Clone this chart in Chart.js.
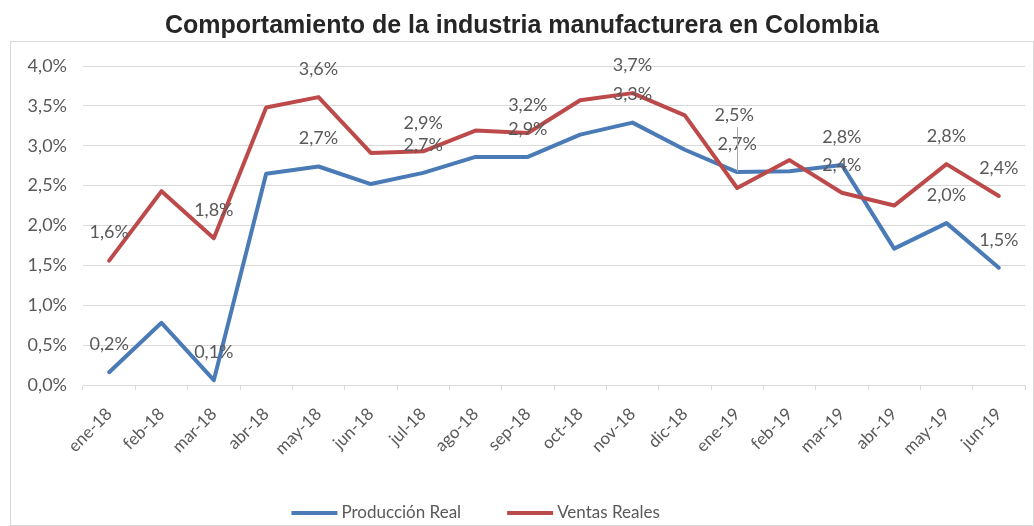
<!DOCTYPE html>
<html lang="es">
<head>
<meta charset="utf-8">
<title>Industria manufacturera</title>
<script src="https://cdn.jsdelivr.net/npm/chart.js@4.4.1/dist/chart.umd.min.js"></script>
<style>
  html, body { margin: 0; padding: 0; background: #fff; }
  #wrap { width: 1034px; height: 526px; }
</style>
</head>
<body>
<div id="wrap"><canvas id="industria" width="1034" height="526"></canvas></div>
<script>
// variación anual (%) de la industria manufacturera
const meses = ['ene-18', 'feb-18', 'mar-18', 'abr-18', 'may-18', 'jun-18', 'jul-18', 'ago-18', 'sep-18',
  'oct-18', 'nov-18', 'dic-18', 'ene-19', 'feb-19', 'mar-19', 'abr-19', 'may-19', 'jun-19'];
const produccionReal = [0.16, 0.78, 0.06, 2.65, 2.74, 2.52, 2.66, 2.86, 2.86,
  3.14, 3.29, 2.95, 2.67, 2.68, 2.76, 1.71, 2.03, 1.47];
const ventasReales = [1.56, 2.43, 1.84, 3.48, 3.61, 2.91, 2.93, 3.19, 3.16,
  3.57, 3.66, 3.38, 2.47, 2.82, 2.41, 2.25, 2.77, 2.37];
// meses que llevan etiqueta de valor
const mesesConEtiqueta = [0, 2, 4, 6, 8, 10, 12, 14, 16, 17];
const ejeY = { min: 0, max: 4, paso: 0.5 };

const TITULO = 'Comportamiento de la industria manufacturera en Colombia';
const GRIS = '#595959';
const FUENTE = 'Lato, "Open Sans", sans-serif';

const pct = v => v.toFixed(1).replace('.', ',') + '%';

// fondo, marco gris y título centrado sobre el marco
const marco = {
  id: 'marco',
  beforeDraw(chart) {
    const ctx = chart.ctx;
    ctx.save();
    ctx.fillStyle = '#fff';
    ctx.fillRect(0, 0, chart.width, chart.height);
    ctx.strokeStyle = '#d9d9d9';
    ctx.lineWidth = 1;
    ctx.strokeRect(10.5, 41.5, chart.width - 11, chart.height - 42);
    ctx.fillStyle = '#262626';
    ctx.font = 'bold 25px "Liberation Sans", Arial, sans-serif';
    ctx.textAlign = 'center';
    ctx.textBaseline = 'middle';
    ctx.fillText(TITULO, (10 + chart.width) / 2, 26);
    ctx.restore();
  }
};

// etiquetas de valor encima de los puntos
const etiquetas = {
  id: 'etiquetas',
  afterDatasetsDraw(chart) {
    const ctx = chart.ctx;
    ctx.save();
    ctx.font = '18px ' + FUENTE;
    ctx.fillStyle = GRIS;
    ctx.textAlign = 'center';
    ctx.textBaseline = 'middle';
    chart.data.datasets.forEach((ds, di) => {
      const meta = chart.getDatasetMeta(di);
      mesesConEtiqueta.forEach(i => {
        const p = meta.data[i];
        let dy = 28, dx = 0;
        // la etiqueta de ventas de ene-19 va desplazada, con línea guía
        if (di === 1 && i === 12) {
          dy = 73; dx = -3;
          const lx = Math.round(p.x) + 0.5;
          ctx.strokeStyle = '#a6a6a6';
          ctx.lineWidth = 1;
          ctx.beginPath();
          ctx.moveTo(lx, p.y - dy + 12);
          ctx.lineTo(lx, p.y - 16);
          ctx.stroke();
        }
        ctx.fillText(pct(ds.data[i]), p.x + dx, p.y - dy);
      });
    });
    ctx.restore();
  }
};

// leyenda inferior: trazo corto de la serie y su nombre
const leyenda = {
  id: 'leyenda',
  afterDraw(chart) {
    const ctx = chart.ctx;
    const linea = 46, hueco = 4, separacion = 46, y = 513;
    ctx.save();
    ctx.font = '17px ' + FUENTE;
    ctx.textBaseline = 'middle';
    ctx.textAlign = 'left';
    const items = chart.data.datasets.map(ds => ({ ds, w: linea + hueco + ctx.measureText(ds.label).width }));
    const total = items.reduce((s, it) => s + it.w, 0) + separacion * (items.length - 1);
    let x = chart.width * 0.46 - total / 2;
    items.forEach(({ ds, w }) => {
      ctx.fillStyle = ds.borderColor;
      ctx.fillRect(x, y - 2, linea, 4);
      ctx.fillStyle = GRIS;
      ctx.fillText(ds.label, x + linea + hueco, y);
      x += w + separacion;
    });
    ctx.restore();
  }
};

new Chart(document.getElementById('industria'), {
  type: 'line',
  data: {
    labels: meses,
    datasets: [
      {
        label: 'Producción Real',
        data: produccionReal,
        borderColor: '#4a7bb7',
        backgroundColor: '#4a7bb7',
        borderWidth: 4,
        order: 2,
      },
      {
        label: 'Ventas Reales',
        data: ventasReales,
        borderColor: '#bd4a4a',
        backgroundColor: '#bd4a4a',
        borderWidth: 4,
        order: 1,
      },
    ],
  },
  options: {
    responsive: false,
    animation: false,
    devicePixelRatio: 1,
    layout: { padding: { left: 12, right: 9, top: 66, bottom: 41 } },
    elements: {
      point: { radius: 0, hoverRadius: 0 },
      line: { tension: 0, borderJoinStyle: 'round', borderCapStyle: 'round' },
    },
    plugins: {
      title: { display: false },
      legend: { display: false },
      tooltip: { enabled: false },
    },
    scales: {
      x: {
        offset: true,
        grid: { drawOnChartArea: false, drawTicks: true, tickLength: 5, color: '#d9d9d9', offset: true },
        border: { color: '#d9d9d9' },
        ticks: {
          color: GRIS,
          font: { family: FUENTE, size: 17 },
          minRotation: 45,
          maxRotation: 45,
          padding: 14,
        },
        afterFit(scale) { scale.height = 100; },
      },
      y: {
        min: ejeY.min,
        max: ejeY.max,
        grid: { color: '#d9d9d9', drawTicks: false },
        border: { display: false },
        ticks: {
          stepSize: ejeY.paso,
          color: GRIS,
          font: { family: FUENTE, size: 18 },
          padding: 16,
          callback: v => pct(v),
        },
        afterFit(scale) { scale.width = 71; },
      },
    },
  },
  plugins: [marco, etiquetas, leyenda],
});
</script>
</body>
</html>
